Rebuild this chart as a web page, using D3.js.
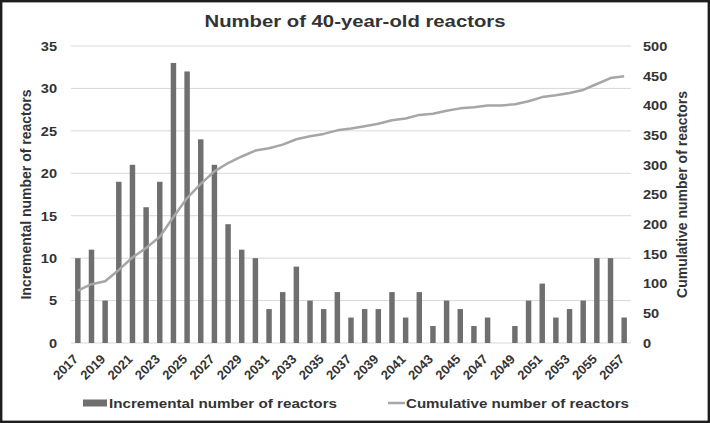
<!DOCTYPE html>
<html>
<head>
<meta charset="utf-8">
<script src="https://cdn.jsdelivr.net/npm/d3@7"></script>
<style>
  body { margin: 0; background: #fff; }
  svg { display: block; font-family: "Liberation Sans", Arial, sans-serif; }
</style>
</head>
<body>
<svg id="chart" width="710" height="423"></svg>
<script>
// data
const years = [2017, 2018, 2019, 2020, 2021, 2022, 2023, 2024, 2025, 2026,
  2027, 2028, 2029, 2030, 2031, 2032, 2033, 2034, 2035, 2036,
  2037, 2038, 2039, 2040, 2041, 2042, 2043, 2044, 2045, 2046,
  2047, 2048, 2049, 2050, 2051, 2052, 2053, 2054, 2055, 2056, 2057];
const incremental = [10, 11, 5, 19, 21, 16, 19, 33, 32, 24,
  21, 14, 11, 10, 4, 6, 9, 5, 4, 6,
  3, 4, 4, 6, 3, 6, 2, 5, 4, 2,
  3, 0, 2, 5, 7, 3, 4, 5, 10, 10, 3];
const cumulative = [88, 99, 104, 123, 144, 160, 179, 212, 244, 268,
  289, 303, 314, 324, 328, 334, 343, 348, 352, 358,
  361, 365, 369, 375, 378, 384, 386, 391, 395, 397,
  400, 400, 402, 407, 414, 417, 421, 426, 436, 446, 449];
const leftTicks = [0, 5, 10, 15, 20, 25, 30, 35];
const rightTicks = [0, 50, 100, 150, 200, 250, 300, 350, 400, 450, 500];
const yearLabels = years.filter((d, i) => i % 2 === 0);

const W = 710, H = 423;
const margin = { top: 46, right: 79, bottom: 80, left: 71 };
const textColor = "#333";

const svg = d3.select("#chart");

// dark frame round the picture
svg.append("rect")
  .attr("x", 1.2).attr("y", 1.2)
  .attr("width", W - 2.4).attr("height", H - 2.4)
  .attr("fill", "#fff")
  .attr("stroke", "#1e1e1e")
  .attr("stroke-width", 2.4);

const x = d3.scaleBand()
  .domain(years)
  .range([margin.left, W - margin.right])
  .paddingInner(0.6)
  .paddingOuter(0.3);

const yLeft = d3.scaleLinear().domain([0, 35]).range([H - margin.bottom, margin.top]);
const yRight = d3.scaleLinear().domain([0, 500]).range([H - margin.bottom, margin.top]);

// stretch text a little wider, the source picture is slightly widened
function stretch(sel, k) {
  sel.each(function () {
    const len = this.getComputedTextLength();
    d3.select(this).attr("textLength", len * k).attr("lengthAdjust", "spacingAndGlyphs");
  });
}

// gridlines
svg.append("g")
  .selectAll("line")
  .data(leftTicks)
  .join("line")
  .attr("x1", margin.left)
  .attr("x2", W - margin.right)
  .attr("y1", d => yLeft(d))
  .attr("y2", d => yLeft(d))
  .attr("stroke", "#d9d9d9")
  .attr("stroke-width", 1);

// bars
svg.append("g")
  .selectAll("rect")
  .data(years)
  .join("rect")
  .attr("x", d => x(d))
  .attr("width", x.bandwidth())
  .attr("y", (d, i) => yLeft(incremental[i]))
  .attr("height", (d, i) => yLeft(0) - yLeft(incremental[i]))
  .attr("fill", "#6f6f6f");

// cumulative line
const line = d3.line()
  .x((d, i) => x(years[i]) + x.bandwidth() / 2)
  .y(d => yRight(d));

svg.append("path")
  .datum(cumulative)
  .attr("d", line)
  .attr("fill", "none")
  .attr("stroke", "#a6a6a6")
  .attr("stroke-width", 2.5)
  .attr("stroke-linejoin", "round");

// axes
const gLeft = svg.append("g")
  .attr("transform", `translate(${margin.left},0)`)
  .call(d3.axisLeft(yLeft).tickValues(leftTicks).tickSize(0).tickPadding(14));

const gRight = svg.append("g")
  .attr("transform", `translate(${W - margin.right},0)`)
  .call(d3.axisRight(yRight).tickValues(rightTicks).tickSize(0).tickPadding(12));

const gBottom = svg.append("g")
  .attr("transform", `translate(0,${H - margin.bottom})`)
  .call(d3.axisBottom(x).tickValues(yearLabels).tickSize(0));

[gLeft, gRight, gBottom].forEach(g => {
  g.select(".domain").remove();
  g.selectAll("text")
    .attr("fill", textColor)
    .attr("font-size", 13.5)
    .attr("font-weight", "bold")
    .attr("font-family", "Liberation Sans, Arial, sans-serif");
});
stretch(gLeft.selectAll("text"), 1.08);
stretch(gRight.selectAll("text"), 1.08);

gBottom.selectAll("text")
  .attr("font-size", 13)
  .attr("x", 0).attr("y", 0).attr("dy", 0)
  .attr("text-anchor", "end")
  .attr("transform", "translate(1,17) rotate(-45)");

// title
const title = svg.append("text")
  .attr("x", W / 2)
  .attr("y", 27)
  .attr("text-anchor", "middle")
  .attr("font-size", 17)
  .attr("font-weight", "bold")
  .attr("fill", textColor)
  .text("Number of 40-year-old reactors");
title.attr("textLength", 301).attr("lengthAdjust", "spacingAndGlyphs");

// axis titles
const midY = (yLeft(0) + yLeft(35)) / 2;
svg.append("text")
  .attr("transform", `translate(31,${midY}) rotate(-90)`)
  .attr("text-anchor", "middle")
  .attr("font-size", 14)
  .attr("font-weight", "bold")
  .attr("fill", textColor)
  .text("Incremental number of reactors");

svg.append("text")
  .attr("transform", `translate(687,${midY}) rotate(-90)`)
  .attr("text-anchor", "middle")
  .attr("font-size", 14)
  .attr("font-weight", "bold")
  .attr("fill", textColor)
  .text("Cumulative number of reactors");

// legend
const legend = svg.append("g").attr("transform", "translate(0,403)");
legend.append("rect")
  .attr("x", 83).attr("y", -3.5)
  .attr("width", 24).attr("height", 7)
  .attr("fill", "#6f6f6f");
legend.append("text")
  .attr("x", 109).attr("y", 0).attr("dy", "0.36em")
  .attr("font-size", 13).attr("font-weight", "bold").attr("fill", textColor)
  .attr("textLength", 228).attr("lengthAdjust", "spacingAndGlyphs")
  .text("Incremental number of reactors");
legend.append("line")
  .attr("x1", 388).attr("x2", 405)
  .attr("y1", 0).attr("y2", 0)
  .attr("stroke", "#a6a6a6").attr("stroke-width", 2.5);
legend.append("text")
  .attr("x", 406).attr("y", 0).attr("dy", "0.36em")
  .attr("font-size", 13).attr("font-weight", "bold").attr("fill", textColor)
  .attr("textLength", 223).attr("lengthAdjust", "spacingAndGlyphs")
  .text("Cumulative number of reactors");
</script>
</body>
</html>
